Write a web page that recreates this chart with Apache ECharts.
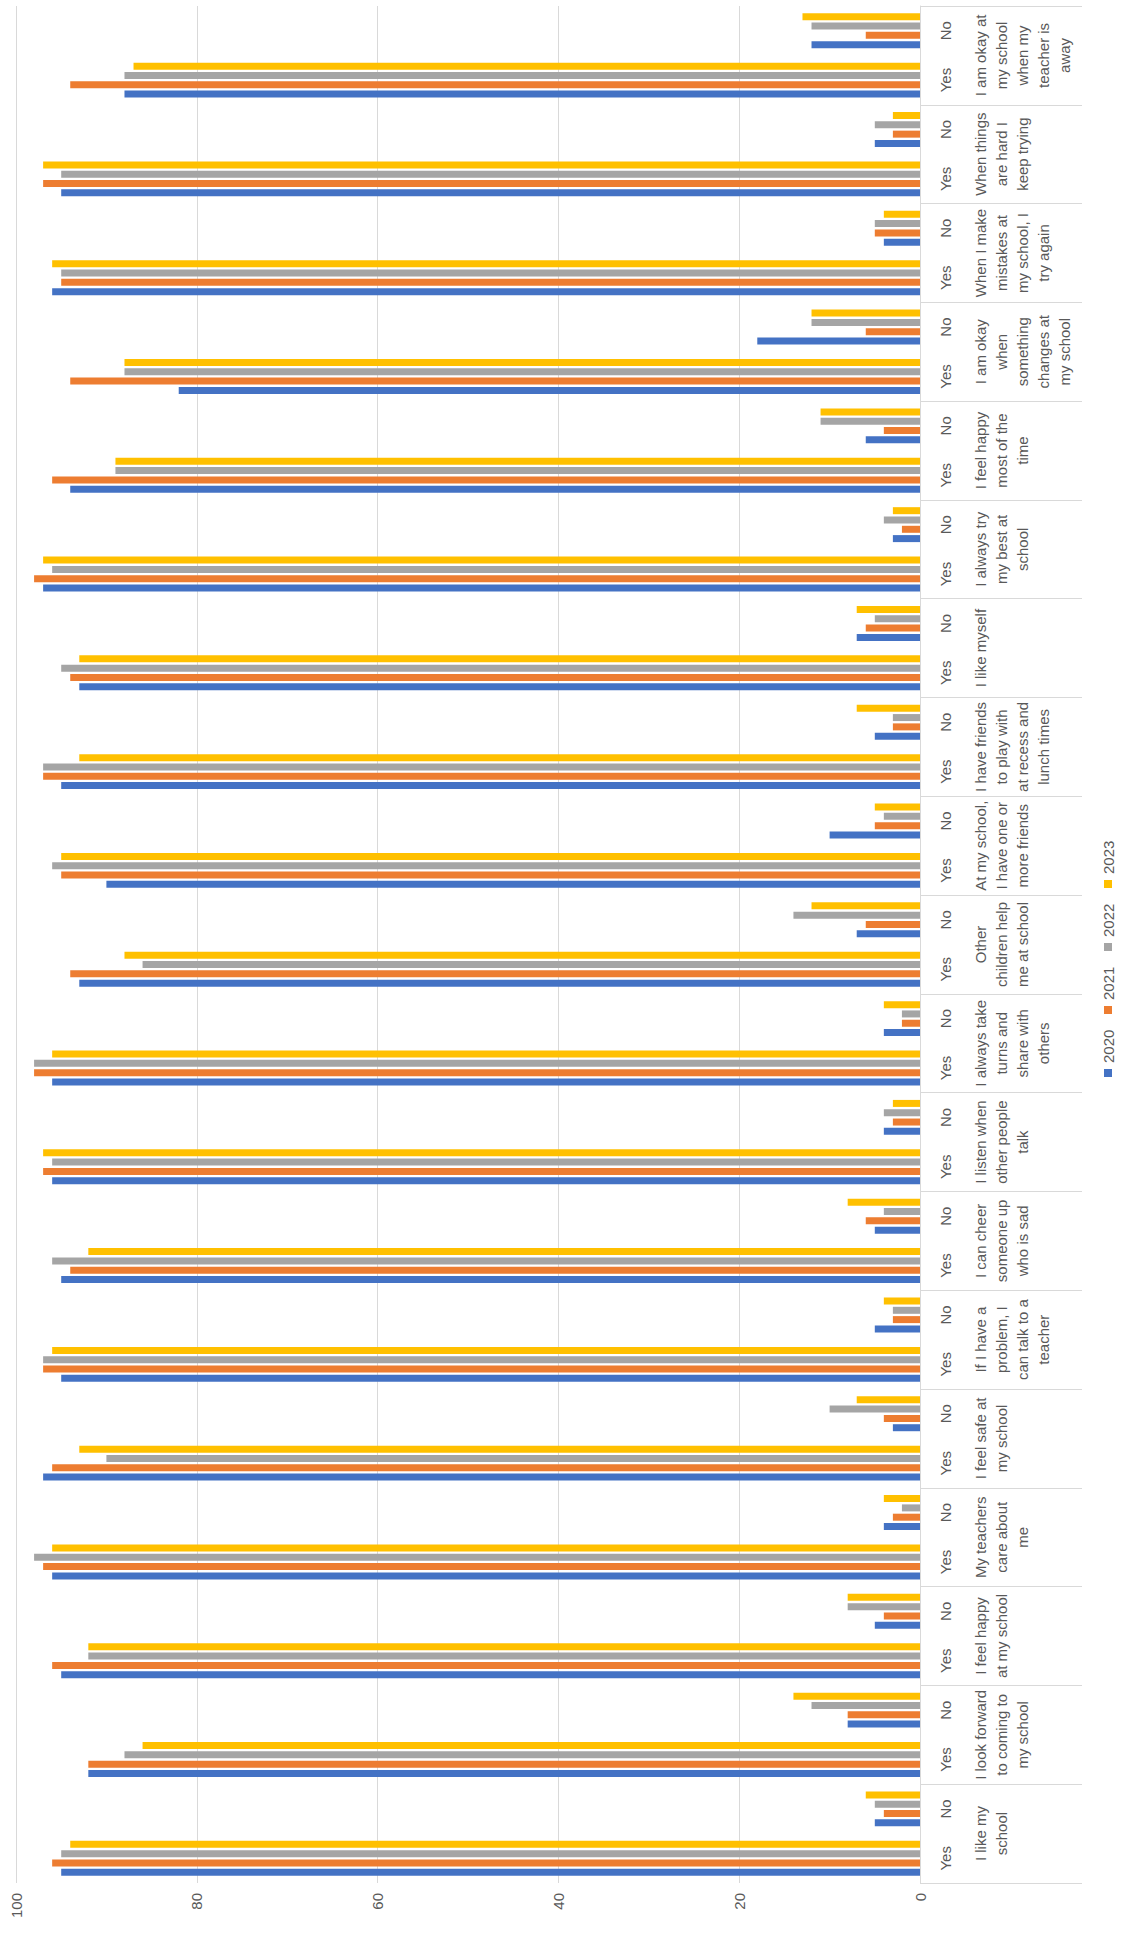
<!DOCTYPE html>
<html>
<head>
<meta charset="utf-8">
<title>Student wellbeing survey 2020-2023</title>
<script src="https://cdn.jsdelivr.net/npm/echarts@6/dist/echarts.min.js"></script>
<style>
html, body { margin: 0; padding: 0; background: #fff; }
#chart { width: 1131px; height: 1935px; }
</style>
</head>
<body>
<div id="chart"></div>
<script>
// statements, listed from the bottom of the chart to the top
const questions = [
  'I like my\nschool',
  'I look forward\nto coming to\nmy school',
  'I feel happy\nat my school',
  'My teachers\ncare about\nme',
  'I feel safe at\nmy school',
  'If I have a\nproblem, I\ncan talk to a\nteacher',
  'I can cheer\nsomeone up\nwho is sad',
  'I listen when\nother people\ntalk',
  'I always take\nturns and\nshare with\nothers',
  'Other\nchildren help\nme at school',
  'At my school,\nI have one or\nmore friends',
  'I have friends\nto play with\nat recess and\nlunch times',
  'I like myself',
  'I always try\nmy best at\nschool',
  'I feel happy\nmost of the\ntime',
  'I am okay\nwhen\nsomething\nchanges at\nmy school',
  'When I make\nmistakes at\nmy school, I\ntry again',
  'When things\nare hard I\nkeep trying',
  'I am okay at\nmy school\nwhen my\nteacher is\naway'
];
const answers = ['Yes', 'No'];
const years = ['2020', '2021', '2022', '2023'];

// percentages answering Yes / No, one value per statement
const yes2020 = [95, 92, 95, 96, 97, 95, 95, 96, 96, 93, 90, 95, 93, 97, 94, 82, 96, 95, 88];
const yes2021 = [96, 92, 96, 97, 96, 97, 94, 97, 98, 94, 95, 97, 94, 98, 96, 94, 95, 97, 94];
const yes2022 = [95, 88, 92, 98, 90, 97, 96, 96, 98, 86, 96, 97, 95, 96, 89, 88, 95, 95, 88];
const yes2023 = [94, 86, 92, 96, 93, 96, 92, 97, 96, 88, 95, 93, 93, 97, 89, 88, 96, 97, 87];
const no2020 = [5, 8, 5, 4, 3, 5, 5, 4, 4, 7, 10, 5, 7, 3, 6, 18, 4, 5, 12];
const no2021 = [4, 8, 4, 3, 4, 3, 6, 3, 2, 6, 5, 3, 6, 2, 4, 6, 5, 3, 6];
const no2022 = [5, 12, 8, 2, 10, 3, 4, 4, 2, 14, 4, 3, 5, 4, 11, 12, 5, 5, 12];
const no2023 = [6, 14, 8, 4, 7, 4, 8, 3, 4, 12, 5, 7, 7, 3, 11, 12, 4, 3, 13];

const valueTicks = [0, 20, 40, 60, 80, 100];

const colors = ['#4472C4', '#ED7D31', '#A5A5A5', '#FFC000'];
const textColor = '#595959';
const lineColor = '#d9d9d9';
const font = 'Liberation Sans, Arial, sans-serif';

// inner level: Yes/No for each statement
const answerCats = [];
questions.forEach(() => answers.forEach(a => answerCats.push(a)));

function interleave(yesArr, noArr) {
  const out = [];
  yesArr.forEach((v, i) => { out.push(v); out.push(noArr[i]); });
  return out;
}
const yesData = [yes2020, yes2021, yes2022, yes2023];
const noData = [no2020, no2021, no2022, no2023];

let chart = echarts.init(document.getElementById('chart'), null, { renderer: 'svg' });

// legend drawn by hand because the whole chart is turned on its side
const legendItems = years.map((y, i) => ({
  type: 'group',
  x: 1108,
  y: 1073 - i * 63,
  children: [
    { type: 'rect', shape: { x: -4, y: -4, width: 8, height: 8 }, style: { fill: colors[i] } },
    {
      type: 'text', x: 0, y: -10, rotation: Math.PI / 2,
      style: { text: y, fill: textColor, font: '15px ' + font, align: 'left', verticalAlign: 'middle' }
    }
  ]
}));

// horizontal bars stack the first series on top, so add 2023 first to get 2020 at the bottom
let series = [];
for (let i = years.length - 1; i >= 0; i--) {
  series.push({
    name: years[i],
    type: 'bar',
    yAxisIndex: 0,
    barWidth: 7,
    barGap: '33%',
    itemStyle: { color: colors[i] },
    data: interleave(yesData[i], noData[i])
  });
}

let option = {
  backgroundColor: '#fff',
  animation: false,
  grid: { left: 16, right: 211, top: 6, bottom: 52 },
  xAxis: {
    type: 'value',
    inverse: true,
    min: valueTicks[0],
    max: valueTicks[valueTicks.length - 1],
    interval: valueTicks[1] - valueTicks[0],
    axisLine: { show: false },
    axisTick: { show: false },
    splitLine: { lineStyle: { color: lineColor, width: 1 } },
    axisLabel: { rotate: 90, margin: 10, color: textColor, fontSize: 15, fontFamily: font }
  },
  yAxis: [
    {
      type: 'category',
      position: 'right',
      data: answerCats,
      axisLine: { lineStyle: { color: lineColor } },
      axisTick: { show: false },
      splitLine: { show: false },
      axisLabel: {
        interval: 0, rotate: 90, margin: 25, align: 'center', verticalAlign: 'middle',
        color: textColor, fontSize: 15, fontFamily: font
      }
    },
    {
      type: 'category',
      position: 'right',
      data: questions,
      axisLine: { show: false },
      axisTick: { show: true, interval: 0, length: 162, lineStyle: { color: lineColor } },
      splitLine: { show: false },
      axisLabel: {
        interval: 0, rotate: 90, margin: 50, align: 'center', verticalAlign: 'top',
        lineHeight: 21, color: textColor, fontSize: 15, fontFamily: font
      }
    }
  ],
  series: series,
  graphic: legendItems
};
option && chart.setOption(option);
</script>
</body>
</html>
